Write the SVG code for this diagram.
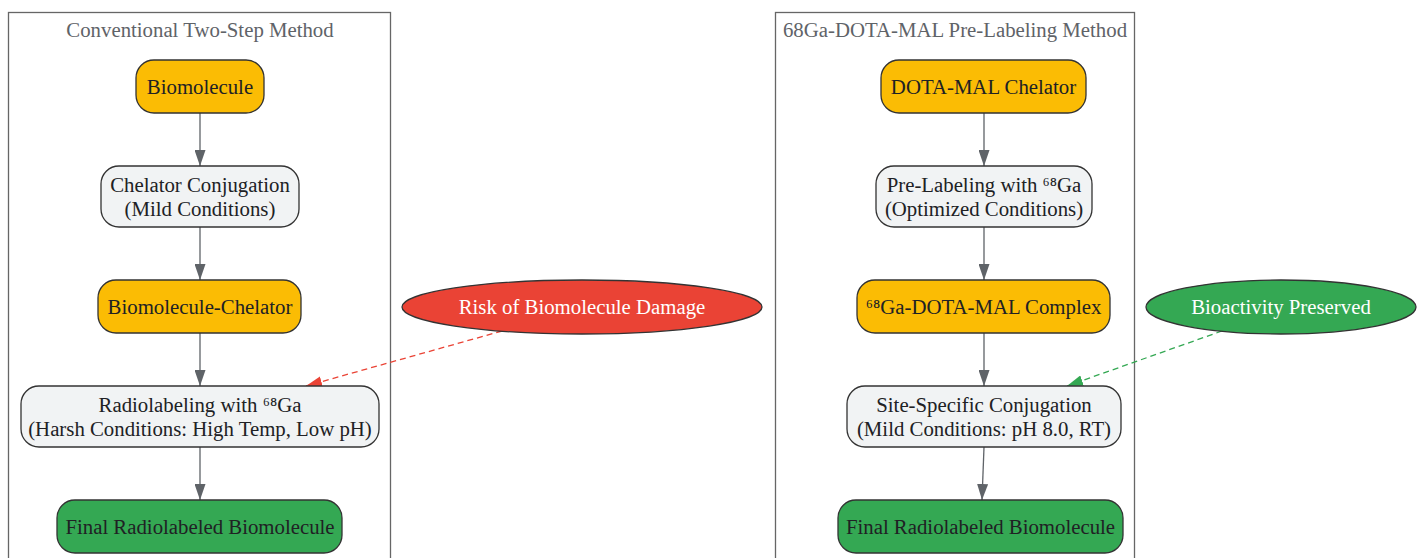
<svg xmlns="http://www.w3.org/2000/svg" width="1423" height="558" viewBox="0 0 1423 558">
<defs>
<style>
text{font-family:"Liberation Serif","Times New Roman",serif;font-size:20.8px;text-anchor:middle;fill:#202124}
.cl{fill:none;stroke:#666;stroke-width:1.3}
.clt{fill:#5f6368}
.y{fill:#fbbc04;stroke:#333;stroke-width:1.3}
.g{fill:#f1f3f4;stroke:#333;stroke-width:1.3}
.gr{fill:#34a853;stroke:#333;stroke-width:1.3}
.r{fill:#ea4335;stroke:#333;stroke-width:1.3}
.w{fill:#ffffff}
.e{stroke:#5f6368;stroke-width:1.3;fill:none;marker-end:url(#ah)}
.dr{stroke:#ea4335;stroke-width:1.3;fill:none;stroke-dasharray:6,4;marker-end:url(#ahr)}
.dg{stroke:#34a853;stroke-width:1.3;fill:none;stroke-dasharray:6,4;marker-end:url(#ahg)}
</style>
<marker id="ah" markerUnits="userSpaceOnUse" markerWidth="16" markerHeight="11" refX="16" refY="5.5" viewBox="0 0 16 11" orient="auto"><path d="M0,0L16,5.5L0,11z" fill="#5f6368"/></marker>
<marker id="ahr" markerUnits="userSpaceOnUse" markerWidth="16" markerHeight="11" refX="16" refY="5.5" viewBox="0 0 16 11" orient="auto"><path d="M0,0L16,5.5L0,11z" fill="#ea4335"/></marker>
<marker id="ahg" markerUnits="userSpaceOnUse" markerWidth="16" markerHeight="11" refX="16" refY="5.5" viewBox="0 0 16 11" orient="auto"><path d="M0,0L16,5.5L0,11z" fill="#34a853"/></marker>
</defs>
<rect width="1423" height="558" fill="#ffffff"/>
<g id="cluster-conventional">
<rect class="cl" x="8.5" y="12.5" width="382" height="560"/>
<text class="clt" x="200" y="37">Conventional Two-Step Method</text>
</g>
<g id="cluster-prelabel">
<rect class="cl" x="775.5" y="12.5" width="359" height="560"/>
<text class="clt" x="955" y="37">68Ga-DOTA-MAL Pre-Labeling Method</text>
</g>
<g id="connectors">
<line class="e" x1="200" y1="113" x2="200" y2="166"/>
<line class="e" x1="200" y1="227" x2="200" y2="280"/>
<line class="e" x1="200" y1="333" x2="200" y2="386"/>
<line class="e" x1="200" y1="447" x2="200" y2="500"/>
<line class="e" x1="984" y1="113" x2="984" y2="166"/>
<line class="e" x1="984" y1="227" x2="984" y2="280"/>
<line class="e" x1="984" y1="333" x2="984" y2="386"/>
<line class="e" x1="984" y1="447" x2="982" y2="500"/>
<line class="dr" x1="502" y1="331" x2="306" y2="386"/>
<line class="dg" x1="1222" y1="331" x2="1067" y2="386"/>
</g>
<g id="n-biomolecule">
<rect class="y" x="136" y="60" width="128" height="53" rx="18"/>
<text x="200" y="94">Biomolecule</text>
</g>
<g id="n-conjugation">
<rect class="g" x="101" y="166" width="198" height="61" rx="18"/>
<text x="200" y="192">Chelator Conjugation</text>
<text x="200" y="216">(Mild Conditions)</text>
</g>
<g id="n-biochelator">
<rect class="y" x="98" y="280" width="203" height="53" rx="18"/>
<text x="200" y="314">Biomolecule-Chelator</text>
</g>
<g id="n-radiolabeling">
<rect class="g" x="21" y="386" width="358" height="61" rx="18"/>
<text x="200" y="412">Radiolabeling with ⁶⁸Ga</text>
<text x="200" y="436">(Harsh Conditions: High Temp, Low pH)</text>
</g>
<g id="n-final-left">
<rect class="gr" x="57" y="500" width="285" height="53" rx="18"/>
<text x="200" y="534">Final Radiolabeled Biomolecule</text>
</g>
<g id="n-risk">
<ellipse class="r" cx="582" cy="307" rx="180" ry="27"/>
<text class="w" x="582" y="314">Risk of Biomolecule Damage</text>
</g>
<g id="n-dotamal">
<rect class="y" x="881" y="60" width="205" height="53" rx="18"/>
<text x="983.5" y="94">DOTA-MAL Chelator</text>
</g>
<g id="n-prelabel">
<rect class="g" x="876" y="166" width="216" height="61" rx="18"/>
<text x="984" y="192">Pre-Labeling with ⁶⁸Ga</text>
<text x="984" y="216">(Optimized Conditions)</text>
</g>
<g id="n-complex">
<rect class="y" x="857" y="280" width="253" height="53" rx="18"/>
<text x="983.5" y="314">⁶⁸Ga-DOTA-MAL Complex</text>
</g>
<g id="n-sitespecific">
<rect class="g" x="847" y="386" width="274" height="61" rx="18"/>
<text x="984" y="412">Site-Specific Conjugation</text>
<text x="984" y="436">(Mild Conditions: pH 8.0, RT)</text>
</g>
<g id="n-final-right">
<rect class="gr" x="838" y="500" width="285" height="53" rx="18"/>
<text x="980.5" y="534">Final Radiolabeled Biomolecule</text>
</g>
<g id="n-bioactivity">
<ellipse class="gr" cx="1281" cy="307" rx="135" ry="27"/>
<text class="w" x="1281" y="314">Bioactivity Preserved</text>
</g>
</svg>
